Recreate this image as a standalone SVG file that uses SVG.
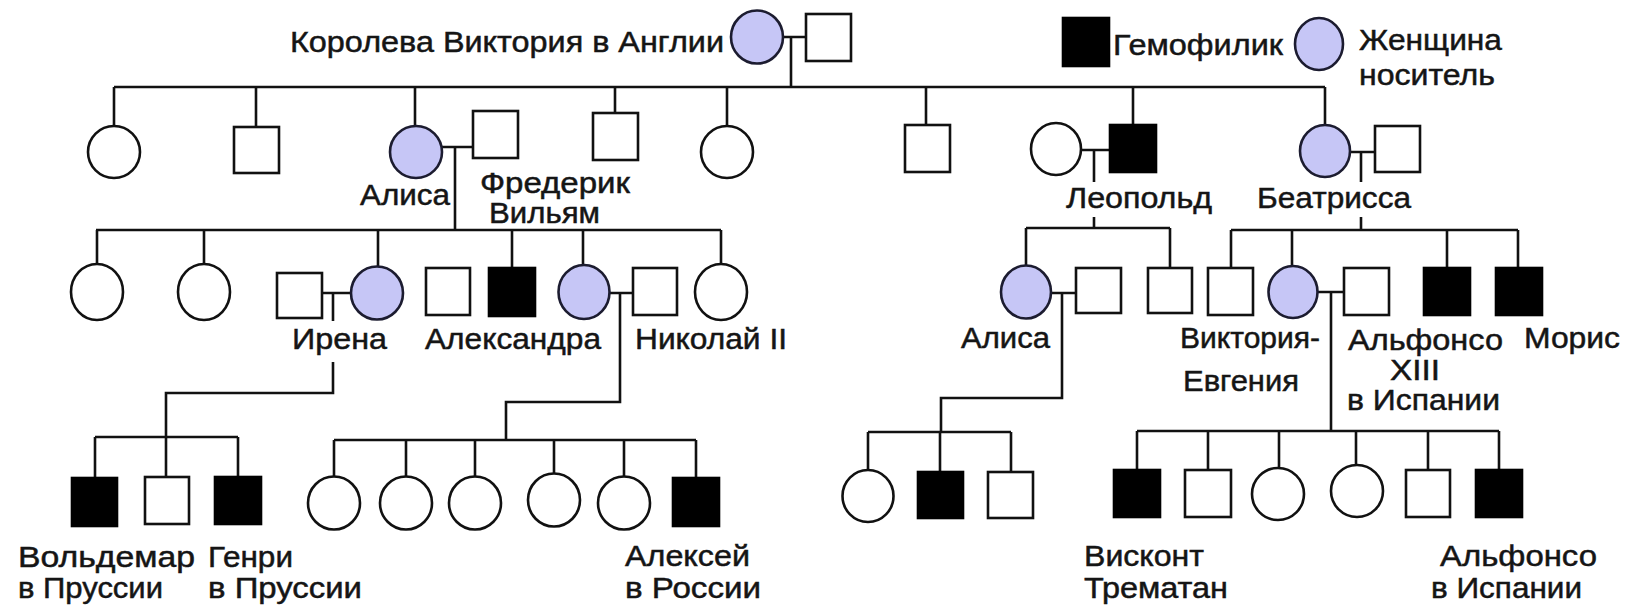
<svg xmlns="http://www.w3.org/2000/svg" width="1640" height="609" viewBox="0 0 1640 609">
<style>
.m{fill:#fff;stroke:#111;stroke-width:2.6}
.h{fill:#000;stroke:#000;stroke-width:2.6}
.c{fill:#fff;stroke:#111;stroke-width:2.6}
.v{fill:#c6c6f6;stroke:#1c1c30;stroke-width:2.6}
.ln{fill:none;stroke:#111;stroke-width:2.6}
text{font-family:"Liberation Sans",Arial,sans-serif;font-size:30px;fill:#151515;stroke:#151515;stroke-width:0.5}
</style>
<rect width="1640" height="609" fill="#fff"/>
<g id="connectors" class="ln">
<path d="M783,37H806M791,37V87M114,87H1325"/>
<path d="M114,87V126M256,87V127M415,87V126M615,87V113M727,87V126M926,87V125M1133,87V125M1325,87V125"/>
<path d="M442,147H473M455,147V230M96,230H721"/>
<path d="M97,230V264M204,230V264M378,230V266M512,230V268M583,230V265M721,230V264"/>
<path d="M1082,150H1110M1094,150V182M1094,217V228M1026,228H1170"/>
<path d="M1026,228V266M1170,228V268"/>
<path d="M1351,152H1375M1361,152V182M1361,217V230M1231,230H1518"/>
<path d="M1231,230V268M1292,230V266M1447,230V268M1518,230V268"/>
<path d="M322,293H351M333,293V321M333,362V393H166V477M95,437H238M95,437V478M238,437V477"/>
<path d="M610,293H633M620,293V402H506V440M334,440H696M334,440V477M406,440V477M475,440V477M554,440V474M624,440V477M696,440V478"/>
<path d="M1050,293H1076M1062,293V398H941V432M868,432H1011M868,432V470M940,432V472M1011,432V472"/>
<path d="M1317,292H1344M1331,292V431M1137,431H1499M1137,431V470M1208,431V470M1279,431V468M1356,431V465M1428,431V470M1499,431V470"/>
</g>
<g id="legend">
<rect class="h" x="1063" y="18" width="46" height="48"/>
<text x="1113" y="55" textLength="170" lengthAdjust="spacingAndGlyphs">Гемофилик</text>
<ellipse class="v" cx="1319" cy="44" rx="24" ry="26"/>
<text x="1359" y="50" textLength="143" lengthAdjust="spacingAndGlyphs">Женщина</text>
<text x="1359" y="85" textLength="136" lengthAdjust="spacingAndGlyphs">носитель</text>
</g>
<g id="victoria"><ellipse class="v" cx="757" cy="37" rx="26" ry="26.5"/>
<text x="290" y="52" textLength="434" lengthAdjust="spacingAndGlyphs">Королева Виктория в Англии</text></g>
<g id="albert"><rect class="m" x="806" y="14" width="45" height="47"/></g>
<g id="g2-1"><ellipse class="c" cx="114" cy="152" rx="26" ry="26"/></g>
<g id="g2-2"><rect class="m" x="234" y="127" width="45" height="46"/></g>
<g id="alice"><ellipse class="v" cx="416" cy="152" rx="26" ry="26"/>
<text x="360" y="205" textLength="90" lengthAdjust="spacingAndGlyphs">Алиса</text></g>
<g id="frederick"><rect class="m" x="473" y="111" width="45" height="47"/>
<text x="480" y="193" textLength="150" lengthAdjust="spacingAndGlyphs">Фредерик</text>
<text x="489" y="223" textLength="111" lengthAdjust="spacingAndGlyphs">Вильям</text></g>
<g id="g2-4"><rect class="m" x="593" y="113" width="45" height="47"/></g>
<g id="g2-5"><ellipse class="c" cx="727" cy="152" rx="26" ry="26"/></g>
<g id="g2-6"><rect class="m" x="905" y="125" width="45" height="47"/></g>
<g id="leopold-wife"><ellipse class="c" cx="1056" cy="149" rx="25" ry="26"/></g>
<g id="leopold"><rect class="h" x="1110" y="125" width="46" height="47"/>
<text x="1066" y="208" textLength="146" lengthAdjust="spacingAndGlyphs">Леопольд</text></g>
<g id="beatrice"><ellipse class="v" cx="1325" cy="151" rx="25" ry="26"/>
<text x="1257" y="208" textLength="154" lengthAdjust="spacingAndGlyphs">Беатрисса</text></g>
<g id="beatrice-husband"><rect class="m" x="1375" y="126" width="45" height="46"/></g>
<g id="g3-1"><ellipse class="c" cx="97" cy="292" rx="26" ry="28"/></g>
<g id="g3-2"><ellipse class="c" cx="204" cy="292" rx="26" ry="28"/></g>
<g id="irene-husband"><rect class="m" x="277" y="273" width="45" height="45"/></g>
<g id="irene"><ellipse class="v" cx="377" cy="293" rx="26" ry="26.5"/>
<text x="292" y="349" textLength="95" lengthAdjust="spacingAndGlyphs">Ирена</text></g>
<g id="g3-4"><rect class="m" x="426" y="268" width="44" height="47"/></g>
<g id="g3-5"><rect class="h" x="489" y="268" width="46" height="48"/></g>
<g id="alexandra"><ellipse class="v" cx="584" cy="292" rx="25.5" ry="27"/>
<text x="425" y="349" textLength="176" lengthAdjust="spacingAndGlyphs">Александра</text></g>
<g id="nicholas"><rect class="m" x="633" y="268" width="44" height="47"/>
<text x="635" y="349" textLength="152" lengthAdjust="spacingAndGlyphs">Николай II</text></g>
<g id="g3-8"><ellipse class="c" cx="721" cy="292" rx="26" ry="28"/></g>
<g id="alice2"><ellipse class="v" cx="1026" cy="292" rx="25" ry="26.5"/>
<text x="961" y="348" textLength="89" lengthAdjust="spacingAndGlyphs">Алиса</text></g>
<g id="alice2-husband"><rect class="m" x="1076" y="268" width="45" height="45"/></g>
<g id="g3-11"><rect class="m" x="1148" y="268" width="44" height="45"/></g>
<g id="g3-12"><rect class="m" x="1208" y="268" width="45" height="47"/></g>
<g id="victoria-eugenie"><ellipse class="v" cx="1293" cy="292" rx="24.5" ry="26"/>
<text x="1180" y="348" textLength="140" lengthAdjust="spacingAndGlyphs">Виктория-</text>
<text x="1183" y="391" textLength="116" lengthAdjust="spacingAndGlyphs">Евгения</text></g>
<g id="alfonso13"><rect class="m" x="1344" y="268" width="45" height="47"/>
<text x="1348" y="350" textLength="155" lengthAdjust="spacingAndGlyphs">Альфонсо</text>
<text x="1390" y="380" textLength="50" lengthAdjust="spacingAndGlyphs">XIII</text>
<text x="1347" y="410" textLength="153" lengthAdjust="spacingAndGlyphs">в Испании</text></g>
<g id="g3-15"><rect class="h" x="1424" y="268" width="46" height="47"/></g>
<g id="maurice"><rect class="h" x="1496" y="268" width="46" height="47"/>
<text x="1524" y="348" textLength="96" lengthAdjust="spacingAndGlyphs">Морис</text></g>
<g id="waldemar"><rect class="h" x="72" y="478" width="45" height="48"/>
<text x="18" y="567" textLength="177" lengthAdjust="spacingAndGlyphs">Вольдемар</text>
<text x="18" y="598" textLength="145" lengthAdjust="spacingAndGlyphs">в Пруссии</text></g>
<g id="g4-2"><rect class="m" x="145" y="477" width="44" height="47"/></g>
<g id="henry"><rect class="h" x="215" y="477" width="46" height="47"/>
<text x="208" y="567" textLength="85" lengthAdjust="spacingAndGlyphs">Генри</text>
<text x="208" y="598" textLength="154" lengthAdjust="spacingAndGlyphs">в Пруссии</text></g>
<g id="g4-4"><ellipse class="c" cx="334" cy="503" rx="26" ry="26.5"/></g>
<g id="g4-5"><ellipse class="c" cx="406" cy="503" rx="26" ry="26.5"/></g>
<g id="g4-6"><ellipse class="c" cx="475" cy="503" rx="26" ry="26.5"/></g>
<g id="g4-7"><ellipse class="c" cx="554" cy="500" rx="26" ry="26.5"/></g>
<g id="g4-8"><ellipse class="c" cx="624" cy="503" rx="26" ry="26.5"/></g>
<g id="alexei"><rect class="h" x="673" y="478" width="46" height="48"/>
<text x="625" y="566" textLength="125" lengthAdjust="spacingAndGlyphs">Алексей</text>
<text x="625" y="598" textLength="136" lengthAdjust="spacingAndGlyphs">в России</text></g>
<g id="g4-10"><ellipse class="c" cx="868" cy="496" rx="25.5" ry="26"/></g>
<g id="g4-11"><rect class="h" x="918" y="472" width="45" height="46"/></g>
<g id="g4-12"><rect class="m" x="988" y="472" width="45" height="46"/></g>
<g id="viscount"><rect class="h" x="1114" y="470" width="46" height="47"/>
<text x="1084" y="566" textLength="120" lengthAdjust="spacingAndGlyphs">Висконт</text>
<text x="1084" y="598" textLength="144" lengthAdjust="spacingAndGlyphs">Трематан</text></g>
<g id="g4-14"><rect class="m" x="1185" y="470" width="46" height="47"/></g>
<g id="g4-15"><ellipse class="c" cx="1278" cy="494" rx="26" ry="26"/></g>
<g id="g4-16"><ellipse class="c" cx="1357" cy="491" rx="26" ry="26"/></g>
<g id="g4-17"><rect class="m" x="1406" y="470" width="44" height="47"/></g>
<g id="alfonso"><rect class="h" x="1476" y="470" width="46" height="47"/>
<text x="1440" y="566" textLength="157" lengthAdjust="spacingAndGlyphs">Альфонсо</text>
<text x="1431" y="598" textLength="151" lengthAdjust="spacingAndGlyphs">в Испании</text></g>
</svg>
